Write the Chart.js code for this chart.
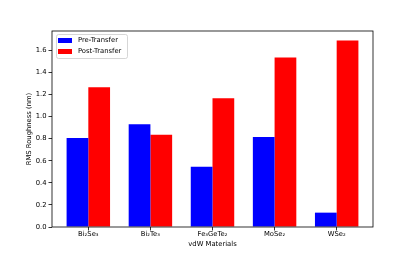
<!DOCTYPE html>
<html>
<head>
<meta charset="utf-8">
<script src="https://cdn.jsdelivr.net/npm/chart.js@4"></script>
<style>
  html, body { margin: 0; padding: 0; background: #fff; }
  #wrap { width: 415px; height: 260px; }
</style>
</head>
<body>
<div id="wrap"><canvas id="grafico" width="415" height="260"></canvas></div>
<script>
// materiales y rugosidad RMS (nm)
const materiales = ["Bi\u2082Se\u2083", "Bi\u2082Te\u2083", "Fe\u2083GeTe\u2082", "MoSe\u2082", "WSe\u2082"];
const preTransfer = [0.805, 0.93, 0.545, 0.815, 0.13];
const postTransfer = [1.265, 0.835, 1.165, 1.535, 1.69];
const yTicks = [0, 0.2, 0.4, 0.6, 0.8, 1.0, 1.2, 1.4, 1.6];

const fuente = "'DejaVu Sans', sans-serif";
Chart.defaults.font.family = fuente;
Chart.defaults.font.size = 6.8;
Chart.defaults.color = "#000";

// marco completo del area del grafico
const marco = {
	id: "marco",
	afterDraw(chart) {
		const ctx = chart.ctx;
		const a = chart.chartArea;
		ctx.save();
		ctx.strokeStyle = "#000";
		ctx.lineWidth = 0.8;
		ctx.strokeRect(a.left, a.top, a.right - a.left, a.bottom - a.top);
		ctx.restore();
	},
};

// leyenda dentro del grafico, arriba a la izquierda, con cuadro
const leyenda = {
	id: "leyenda",
	afterDatasetsDraw(chart) {
		const ctx = chart.ctx;
		const a = chart.chartArea;
		const x0 = a.left + 4, y0 = a.top + 3;
		ctx.save();
		ctx.fillStyle = "rgba(255,255,255,0.8)";
		ctx.strokeStyle = "#cccccc";
		ctx.lineWidth = 0.8;
		ctx.beginPath();
		ctx.roundRect(x0 + 0.5, y0 + 0.5, 71, 24, 2);
		ctx.fill();
		ctx.stroke();
		ctx.font = "6.8px " + fuente;
		ctx.textBaseline = "middle";
		chart.data.datasets.forEach((ds, i) => {
			const yc = y0 + 6.5 + i * 11;
			ctx.fillStyle = ds.backgroundColor;
			ctx.fillRect(x0 + 2, yc - 2.5, 14, 5);
			ctx.fillStyle = "#000";
			ctx.fillText(ds.label, x0 + 22, yc);
		});
		ctx.restore();
	},
};

let config = {
	type: "bar",
	data: {
		datasets: [
			{
				label: "Pre-Transfer",
				data: preTransfer.map((v, i) => ({ x: i, y: v })),
				backgroundColor: "#0000ff",
			},
			{
				label: "Post-Transfer",
				data: postTransfer.map((v, i) => ({ x: i, y: v })),
				backgroundColor: "#ff0000",
			},
		],
	},
	options: {
		responsive: false,
		animation: false,
		layout: { padding: { left: 0, right: 42, top: 31, bottom: 0 } },
		datasets: { bar: { categoryPercentage: 0.7, barPercentage: 1.0 } },
		scales: {
			x: {
				type: "linear",
				min: -0.585,
				max: 4.585,
				offset: false,
				afterBuildTicks: (s) => { s.ticks = materiales.map((m, i) => ({ value: i })); },
				afterFit: (s) => { s.height = 33; },
				ticks: { callback: (v) => materiales[v], padding: 0, maxRotation: 0, autoSkip: false },
				grid: { offset: false, drawOnChartArea: false, drawTicks: true, tickLength: 3.5, color: "#000", lineWidth: 0.8 },
				border: { display: false },
				title: { display: true, text: "vdW Materials", padding: { top: 0, bottom: 12 } },
			},
			y: {
				min: 0,
				max: 1.775,
				afterBuildTicks: (s) => { s.ticks = yTicks.map((v) => ({ value: v })); },
				afterFit: (s) => { s.width = 52; },
				ticks: { callback: (v) => v.toFixed(1), padding: 2 },
				grid: { drawOnChartArea: false, drawTicks: true, tickLength: 3.5, color: "#000", lineWidth: 0.8 },
				border: { display: false },
				title: { display: true, text: "RMS Roughness (nm)", padding: { top: 25.5, bottom: 0 } },
			},
		},
		plugins: {
			tooltip: { enabled: false },
			legend: { display: false },
		},
	},
	plugins: [marco, leyenda],
};

const chart = new Chart(document.getElementById("grafico"), config);
</script>
</body>
</html>
